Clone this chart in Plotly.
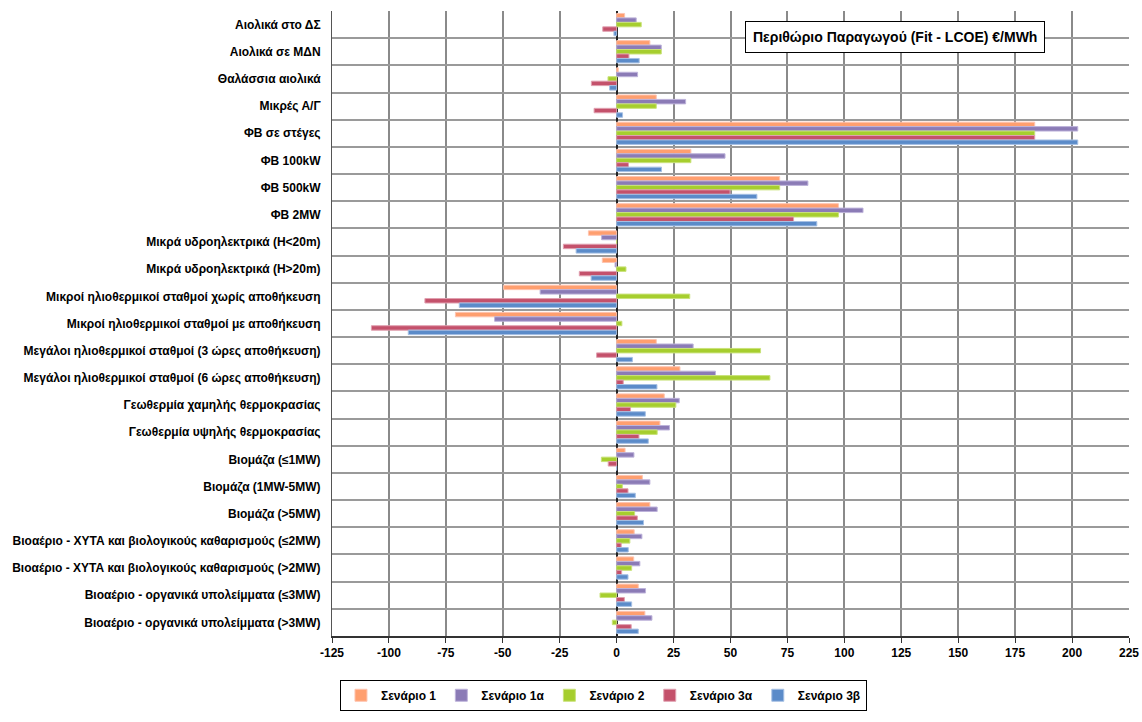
import plotly.graph_objects as go

categories = [
    "Αιολικά στο ΔΣ",
    "Αιολικά σε ΜΔΝ",
    "Θαλάσσια αιολικά",
    "Μικρές Α/Γ",
    "ΦΒ σε στέγες",
    "ΦΒ 100kW",
    "ΦΒ 500kW",
    "ΦΒ 2MW",
    "Μικρά υδροηλεκτρικά (H<20m)",
    "Μικρά υδροηλεκτρικά (H>20m)",
    "Μικροί ηλιοθερμικοί σταθμοί χωρίς αποθήκευση",
    "Μικροί ηλιοθερμικοί σταθμοί με αποθήκευση",
    "Μεγάλοι ηλιοθερμικοί σταθμοί (3 ώρες αποθήκευση)",
    "Μεγάλοι ηλιοθερμικοί σταθμοί (6 ώρες αποθήκευση)",
    "Γεωθερμία χαμηλής θερμοκρασίας",
    "Γεωθερμία υψηλής θερμοκρασίας",
    "Βιομάζα (≤1MW)",
    "Βιομάζα (1MW-5MW)",
    "Βιομάζα (>5MW)",
    "Βιοαέριο - ΧΥΤΑ και βιολογικούς καθαρισμούς (≤2MW)",
    "Βιοαέριο - ΧΥΤΑ και βιολογικούς καθαρισμούς (>2MW)",
    "Βιοαέριο - οργανικά υπολείμματα (≤3MW)",
    "Βιοαέριο - οργανικά υπολείμματα (>3MW)",
]

scenario_1 = [3.5, 14.6, 0.7, 17.4, 183.6, 32.6, 71.6, 97.4, -12.4, -6.3, -49.6, -70.8,
              17.4, 27.8, 20.9, 19.0, 3.7, 11.3, 14.6, 7.7, 7.5, 9.5, 12.4]
scenario_1a = [8.6, 19.6, 9.2, 30.3, 202.5, 47.6, 84.0, 108.2, -6.6, -0.7, -33.6, -53.6,
               33.6, 43.4, 27.5, 23.2, 7.6, 14.6, 17.8, 11.1, 10.2, 12.7, 15.5]
scenario_2 = [10.8, 19.6, -3.8, 17.4, 183.6, 32.6, 71.6, 97.4, 0.0, 4.1, 32.1, 2.3,
              63.2, 67.3, 26.0, 17.8, -6.7, 2.5, 7.9, 5.8, 6.6, -7.3, -1.9]
scenario_3a = [-6.1, 5.4, -11.1, -9.9, 183.6, 5.2, 49.8, 77.7, -23.4, -16.4, -84.2, -107.7,
               -8.8, 2.9, 6.1, 9.8, -3.7, 5.0, 9.1, 2.0, 2.2, 3.4, 6.4]
scenario_3b = [-1.2, 9.9, -3.1, 2.6, 202.5, 19.7, 61.6, 87.9, -17.8, -11.2, -69.1, -91.5,
               6.9, 17.7, 12.6, 13.9, 0.0, 8.2, 11.8, 5.1, 5.0, 6.6, 9.5]

series_names = ["Σενάριο 1", "Σενάριο 1α", "Σενάριο 2", "Σενάριο 3α", "Σενάριο 3β"]
series_values = [scenario_1, scenario_1a, scenario_2, scenario_3a, scenario_3b]
colors = ["#FF9F6F", "#8B7BB6", "#A6CE2E", "#C4516B", "#5B8BC9"]
edge_colors = ["#FFC4B0", "#BDB3DA", "#C9E27A", "#E0A0B0", "#A6C0E4"]

x_ticks = [-125, -100, -75, -50, -25, 0, 25, 50, 75, 100, 125, 150, 175, 200, 225]

FONT = "Liberation Sans, Arial, sans-serif"

positions = list(range(len(categories)))

fig = go.Figure()
for name, vals, c, ec in zip(series_names, series_values, colors, edge_colors):
    fig.add_trace(go.Bar(
        y=positions, x=vals, name=name, orientation="h",
        marker=dict(color=c, line=dict(color=ec, width=1)),
    ))

# invisible trace to carry category separator grid
fig.add_trace(go.Scatter(x=[0], y=[0], yaxis="y2", mode="markers",
                         marker=dict(opacity=0), showlegend=False, hoverinfo="skip"))

n = len(categories)
fig.update_layout(
    width=1142, height=722,
    margin=dict(l=332, r=13, t=11, b=80),
    paper_bgcolor="white", plot_bgcolor="white",
    barmode="group", bargap=0.18, bargroupgap=0.0,
    font=dict(family=FONT, size=12, color="black"),
    xaxis=dict(
        range=[-125, 225], tickvals=x_ticks, ticktext=[str(t) for t in x_ticks],
        showgrid=True, gridcolor="#8a8a8a", gridwidth=1.5,
        zeroline=True, zerolinecolor="#222222", zerolinewidth=1.5,
        showline=True, linecolor="#333333", linewidth=1.5, mirror=False,
        ticks="outside", ticklen=5, tickcolor="#333333",
        tickfont=dict(family=FONT, size=12, weight="bold"),
        automargin=False,
    ),
    yaxis=dict(
        range=[n - 0.5, -0.5], tickvals=positions, ticktext=categories,
        showgrid=False, zeroline=False,
        showline=True, linecolor="#555555", linewidth=1,
        ticks="", ticklabelstandoff=8, automargin=False,
        tickfont=dict(family=FONT, size=12, weight="bold"),
    ),
    yaxis2=dict(
        overlaying="y", range=[n - 0.5, -0.5],
        tickvals=[i + 0.5 for i in range(-1, n)],
        showticklabels=False, showgrid=True, gridcolor="#9a9a9a", gridwidth=1.5,
        zeroline=False, showline=False, ticks="", automargin=False,
    ),
    legend=dict(
        orientation="h", x=0.01, xanchor="left", y=-0.07, yanchor="top",
        bordercolor="black", borderwidth=1, bgcolor="white",
        font=dict(family=FONT, size=12, weight="bold"),
        itemwidth=30, traceorder="normal",
    ),
    annotations=[dict(
        text="Περιθώριο Παραγωγού (Fit - LCOE) €/MWh",
        xref="paper", yref="paper", x=0.706, y=0.959,
        xanchor="center", yanchor="middle",
        showarrow=False, bordercolor="black", borderwidth=1, borderpad=7,
        bgcolor="white", font=dict(family=FONT, size=14, weight="bold"),
    )],
)

fig.write_html("out.html")
